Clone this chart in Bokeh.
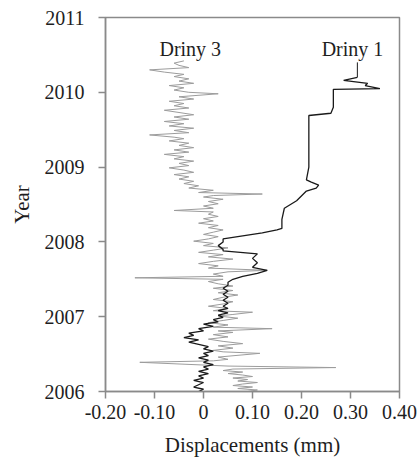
from bokeh.plotting import figure
from bokeh.models import FixedTicker, Label, CustomJSTickFormatter
from bokeh.embed import file_html
from bokeh.resources import INLINE

# Driny 3 (grey): displacement (mm) by time (decimal year)
driny3_year = [
    2006.00, 2006.02, 2006.04, 2006.06, 2006.08, 2006.10, 2006.12, 2006.14, 2006.16, 2006.18,
    2006.20, 2006.22, 2006.24, 2006.26, 2006.28, 2006.30, 2006.32, 2006.34, 2006.39, 2006.41,
    2006.43, 2006.46, 2006.51, 2006.53, 2006.55, 2006.58, 2006.61, 2006.64, 2006.67, 2006.70,
    2006.73, 2006.76, 2006.79, 2006.81, 2006.84, 2006.86, 2006.89, 2006.92, 2006.95, 2006.98,
    2007.01, 2007.03, 2007.06, 2007.08, 2007.11, 2007.14, 2007.17, 2007.20, 2007.23, 2007.26,
    2007.29, 2007.32, 2007.35, 2007.38, 2007.41, 2007.44, 2007.47, 2007.50, 2007.52, 2007.54,
    2007.57, 2007.60, 2007.62, 2007.65, 2007.68, 2007.71, 2007.74, 2007.77, 2007.80, 2007.83,
    2007.86, 2007.89, 2007.92, 2007.95, 2007.98, 2008.01, 2008.04, 2008.07, 2008.10, 2008.13,
    2008.16, 2008.19, 2008.22, 2008.25, 2008.28, 2008.31, 2008.34, 2008.37, 2008.40, 2008.42,
    2008.45, 2008.48, 2008.51, 2008.54, 2008.57, 2008.60, 2008.62, 2008.64, 2008.66, 2008.69,
    2008.72, 2008.75, 2008.78, 2008.81, 2008.84, 2008.87, 2008.90, 2008.93, 2008.96, 2008.99,
    2009.02, 2009.05, 2009.08, 2009.11, 2009.14, 2009.17, 2009.20, 2009.23, 2009.26, 2009.29,
    2009.32, 2009.35, 2009.38, 2009.40, 2009.43, 2009.46, 2009.49, 2009.52, 2009.55, 2009.58,
    2009.61, 2009.64, 2009.67, 2009.70, 2009.73, 2009.76, 2009.79, 2009.82, 2009.85, 2009.88,
    2009.91, 2009.94, 2009.98, 2010.00, 2010.03, 2010.06, 2010.09, 2010.12, 2010.15, 2010.18,
    2010.21, 2010.24, 2010.27, 2010.30, 2010.33, 2010.36, 2010.39, 2010.42,
]
driny3_disp = [
    0.09, 0.11, 0.07, 0.10, 0.06, 0.08, 0.11, 0.07, 0.09, 0.06,
    0.10, 0.08, 0.05, 0.08, 0.04, 0.06, 0.27, 0.05, -0.13, 0.02,
    0.05, 0.03, 0.115, 0.04, 0.02, 0.06, 0.03, 0.08, 0.04, 0.01,
    0.05, 0.02, 0.06, 0.03, 0.14, 0.02, 0.05, 0.01, 0.04, 0.07,
    0.03, 0.06, 0.10, 0.02, 0.05, 0.01, 0.04, 0.06, 0.02, 0.04,
    0.07, 0.03, 0.06, 0.02, 0.06, 0.03, 0.01, 0.04, -0.14, 0.04,
    0.02, 0.05, 0.13, 0.01, 0.03, -0.01, 0.02, 0.06, 0.01, 0.04,
    -0.01, 0.02, 0.05, 0.00, 0.02, -0.02, 0.01, 0.03, 0.00, 0.02,
    0.04, 0.01, 0.03, -0.01, 0.02, 0.00, 0.03, 0.01, 0.02, -0.06,
    0.02, 0.00, 0.03, 0.01, 0.04, 0.00, 0.02, 0.12, -0.01, 0.02,
    -0.03, -0.01, -0.04, -0.02, -0.05, -0.03, -0.06, -0.02, -0.04, -0.07,
    -0.03, -0.05, -0.02, -0.06, -0.04, -0.08, -0.03, -0.06, -0.02, -0.05,
    -0.03, -0.07, -0.04, -0.06, -0.11, -0.03, -0.06, -0.02, -0.07, -0.04,
    -0.08, -0.03, -0.06, -0.02, -0.05, -0.08, -0.03, -0.06, -0.04, -0.07,
    -0.02, -0.05, 0.03, -0.03, -0.06, -0.04, -0.07, -0.02, -0.05, -0.03,
    -0.06, -0.04, -0.08, -0.11, -0.03, -0.05, -0.06, -0.04,
]

# Driny 1 (black): displacement (mm) by time (decimal year)
driny1_year = [
    2006.00, 2006.03, 2006.06, 2006.09, 2006.12, 2006.15, 2006.18, 2006.21, 2006.24, 2006.27,
    2006.30, 2006.33, 2006.36, 2006.39, 2006.42, 2006.45, 2006.48, 2006.51, 2006.54, 2006.57,
    2006.60, 2006.63, 2006.66, 2006.69, 2006.72, 2006.75, 2006.78, 2006.81, 2006.84, 2006.87,
    2006.90, 2006.93, 2006.96, 2006.99, 2007.02, 2007.05, 2007.08, 2007.11, 2007.14, 2007.18,
    2007.22, 2007.26, 2007.30, 2007.34, 2007.38, 2007.42, 2007.46, 2007.50, 2007.54, 2007.58,
    2007.62, 2007.66, 2007.72, 2007.78, 2007.84, 2007.88, 2007.90, 2007.95, 2008.00, 2008.04,
    2008.08, 2008.12, 2008.16, 2008.18, 2008.30, 2008.45, 2008.55, 2008.68, 2008.72, 2008.76,
    2008.80, 2008.83, 2009.00, 2009.30, 2009.69, 2009.72, 2009.80, 2010.00, 2010.04, 2010.05,
    2010.09, 2010.12, 2010.16, 2010.20,
]
driny1_disp = [
    -0.01, 0.00, -0.02, -0.01, 0.00, -0.02, 0.00, -0.01, 0.01, -0.01,
    0.01, 0.00, 0.02, 0.00, 0.01, -0.01, 0.01, 0.00, 0.02, 0.00,
    0.01, -0.01, -0.03, -0.01, -0.04, -0.02, -0.03, 0.00, -0.01, 0.02,
    0.00, 0.03, 0.02, 0.04, 0.03, 0.05, 0.03, 0.05, 0.04, 0.05,
    0.04, 0.05, 0.04, 0.05, 0.04, 0.05, 0.05, 0.06, 0.08, 0.11,
    0.13, 0.10, 0.11, 0.10, 0.11, 0.04, 0.04, 0.03, 0.04, 0.04,
    0.08, 0.12, 0.15, 0.16, 0.16, 0.165, 0.19, 0.21, 0.23, 0.235,
    0.22, 0.21, 0.215, 0.215, 0.215, 0.26, 0.265, 0.265, 0.265, 0.36,
    0.33, 0.335, 0.286, 0.314,
]

x_ticks = [-0.2, -0.1, 0.0, 0.1, 0.2, 0.3, 0.4]
y_ticks = [2006, 2007, 2008, 2009, 2010, 2011]

FONT = "Liberation Serif"
TEXT = "#1e1e1e"
FRAME = "#8a8a8a"

p = figure(
    width=417, height=461,
    x_range=(-0.2, 0.4), y_range=(2006, 2011),
    output_backend="svg", toolbar_location=None,
    min_border_left=105, min_border_right=18,
    min_border_top=17, min_border_bottom=70,
)
p.background_fill_color = "white"
p.border_fill_color = "white"
p.xgrid.visible = False
p.ygrid.visible = False
p.outline_line_color = FRAME
p.outline_line_width = 1.5

for ax in (p.xaxis[0], p.yaxis[0]):
    ax.axis_line_color = FRAME
    ax.axis_line_width = 1.5
    ax.major_tick_line_color = FRAME
    ax.major_tick_line_width = 1.5
    ax.major_tick_in = 0
    ax.major_tick_out = 7
    ax.minor_tick_line_color = None
    ax.major_label_text_font = FONT
    ax.major_label_text_font_size = "20px"
    ax.major_label_text_font_style = "normal"
    ax.major_label_text_color = TEXT
    ax.axis_label_text_font = FONT
    ax.axis_label_text_font_size = "21px"
    ax.axis_label_text_font_style = "normal"
    ax.axis_label_text_color = TEXT

# x labels: "0" for zero, two decimals otherwise
p.xaxis.ticker = FixedTicker(ticks=x_ticks)
p.xaxis.formatter = CustomJSTickFormatter(
    code="return Math.abs(tick) < 1e-9 ? '0' : tick.toFixed(2);")
p.xaxis.major_label_standoff = 6
p.xaxis.axis_label = "Displacements (mm)"
p.xaxis.axis_label_standoff = 11

p.yaxis.ticker = FixedTicker(ticks=y_ticks)
p.yaxis.formatter = CustomJSTickFormatter(code="return tick.toFixed(0);")
p.yaxis.major_label_standoff = 14
p.yaxis.axis_label = "Year"
p.yaxis.axis_label_standoff = 8

p.line(driny3_disp, driny3_year, line_color="#9c9c9c", line_width=1.0)
p.line(driny1_disp, driny1_year, line_color="#1a1a1a", line_width=1.3)

# leader from the Driny 1 label down to the end of its curve
p.line([0.314, 0.314], [2010.20, 2010.40], line_color="#1a1a1a", line_width=1.0)

for txt, x in (("Driny 3", -0.027), ("Driny 1", 0.304)):
    p.add_layout(Label(x=x, y=2010.585, text=txt, text_align="center",
                       text_baseline="alphabetic", text_font=FONT,
                       text_font_size="20px", text_color=TEXT))

open("out.html", "w").write(file_html(p, INLINE))
